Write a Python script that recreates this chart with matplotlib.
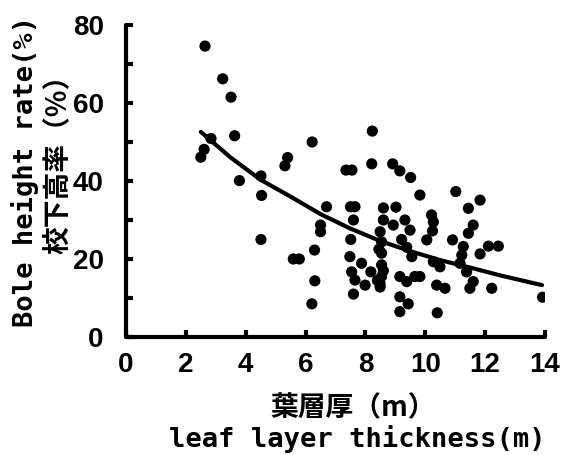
import matplotlib
matplotlib.use("Agg")
import matplotlib.pyplot as plt

# ---- data ----
thickness = [2.64, 3.23, 3.51, 3.63, 2.84, 2.61, 2.50, 6.22, 5.40, 5.31, 3.79, 4.51, 4.53, 4.51,
             6.70, 6.50, 6.50, 6.30, 5.59, 5.79, 6.31, 6.21,
             7.35, 7.55, 8.23, 8.21, 8.91, 9.15, 9.51, 9.82,
             7.50, 7.65, 8.60, 9.02, 7.60, 8.60, 9.32, 8.93, 9.49,
             10.21, 10.27, 10.24, 10.05,
             8.49, 8.54, 7.51, 9.21, 9.38, 8.54, 7.48, 9.55, 10.27, 7.87, 8.54, 7.54, 8.18,
             9.15, 9.65, 7.65, 7.99, 8.49, 8.49, 9.38, 8.54, 7.60, 9.15, 9.43, 9.15, 10.38, 10.40,
             8.45, 8.40, 8.60,
             11.02, 11.83, 11.44, 11.60, 11.44, 10.91, 11.27, 11.22, 12.11, 12.44, 11.83,
             10.49, 11.16, 11.38, 9.82, 10.66, 11.60, 11.49, 12.22, 13.92]
bole_rate = [74.6, 66.2, 61.5, 51.6, 50.9, 48.1, 46.1, 50.0, 46.0, 43.9, 40.1, 41.3, 36.3, 25.0,
             33.4, 28.7, 27.0, 22.3, 20.0, 20.0, 14.4, 8.5,
             42.8, 42.8, 52.8, 44.4, 44.4, 42.6, 40.9, 36.4,
             33.4, 33.4, 33.1, 33.3, 30.0, 30.0, 30.0, 28.7, 27.4,
             31.3, 29.5, 27.2, 24.9,
             27.0, 24.4, 25.0, 25.0, 23.0, 21.5, 20.6, 20.6, 19.3, 18.9, 18.5, 16.7, 16.7,
             15.5, 15.5, 14.6, 13.3, 13.6, 12.8, 14.2, 15.5, 11.0, 10.3, 8.5, 6.5, 13.3, 6.2,
             22.5, 14.5, 17.0,
             37.3, 35.1, 33.0, 28.7, 26.6, 24.9, 23.2, 21.0, 23.3, 23.3, 21.3,
             18.0, 18.9, 16.7, 15.5, 12.5, 14.2, 12.5, 12.5, 10.2]

curve_x = [2.5, 3.5, 4.5, 5.5, 6.5, 7.5, 8.5, 9.5, 10.5, 11.5, 12.5, 13.9]
curve_y = [52.6, 46.0, 40.3, 36.0, 31.5, 27.8, 24.6, 22.0, 19.7, 17.8, 15.8, 13.3]

x_ticks = [0, 2, 4, 6, 8, 10, 12, 14]
y_ticks = [0, 10, 20, 30, 40, 50, 60, 70, 80]
y_tick_labels = ["0", "", "20", "", "40", "", "60", "", "80"]

ylabel_en = "Bole height rate(%)"
ylabel_ja = "校下高率（%）"
xlabel_ja = "葉層厚（m）"
xlabel_en = "leaf layer thickness(m)"

# ---- figure ----
W, H = 561, 455
fig = plt.figure(figsize=(W / 100, H / 100), dpi=100)
ax = fig.add_axes([126 / W, 1 - 337 / H, (545 - 126) / W, (337 - 25) / H])

ax.scatter(thickness, bole_rate, s=65, color="black", edgecolors="none", zorder=3)
ax.plot(curve_x, curve_y, color="black", lw=3.0, solid_capstyle="round", zorder=2)

ax.set_xlim(0, 14)
ax.set_ylim(0, 80)
ax.set_xticks(x_ticks)
ax.set_yticks(y_ticks)
ax.set_yticklabels(y_tick_labels)
for s in ["top", "right"]:
    ax.spines[s].set_visible(False)
for s in ["left", "bottom"]:
    ax.spines[s].set_linewidth(3.0)
    ax.spines[s].set_capstyle("round")
ax.tick_params(direction="in", length=5, width=3, pad=11)
ax.tick_params(axis="y", pad=16)
for lab in ax.get_xticklabels() + ax.get_yticklabels():
    lab.set_fontfamily(["Liberation Sans", "DejaVu Sans"])
    lab.set_fontweight("bold")
    lab.set_fontsize(20)
ax.patch.set_alpha(0)

en_font = ["DejaVu Sans Mono"]
ja_font = ["Noto Sans CJK JP", "DejaVu Sans"]

fig.text(25 / W, 1 - 171 / H, ylabel_en, rotation=90, ha="center", va="center",
         family=en_font, fontsize=19.5, weight="bold")
fig.text(58 / W, 1 - 157 / H, ylabel_ja, rotation=90, ha="center", va="center",
         family=ja_font, fontsize=20, weight="bold")
fig.text(353 / W, 1 - 408 / H, xlabel_ja, ha="center", va="center",
         family=ja_font, fontsize=20, weight="bold")
fig.text(357 / W, 1 - 439 / H, xlabel_en, ha="center", va="center",
         family=en_font, fontsize=19.5, weight="bold")

fig.savefig("out.png", dpi=100, facecolor="white")
